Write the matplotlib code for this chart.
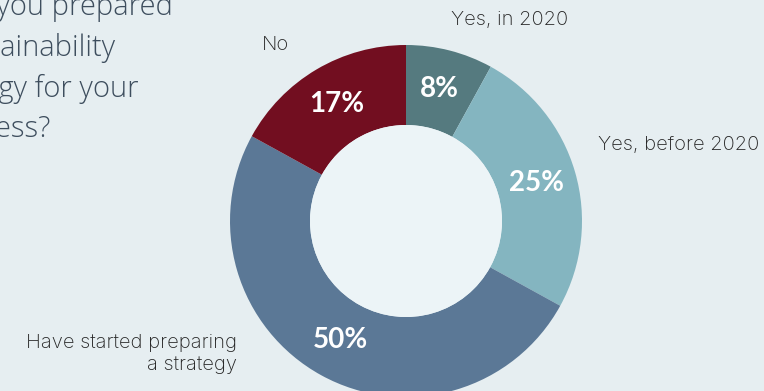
import matplotlib
matplotlib.use("Agg")
import matplotlib.pyplot as plt
from matplotlib.patches import Circle
import numpy as np

# Survey answers (share of respondents, %)
categories = ["Yes, in 2020", "Yes, before 2020", "Have started preparing\na strategy", "No"]
values = [8, 25, 50, 17]
colors = ["#557a7f", "#84b5c0", "#5b7896", "#720e20"]
question_lines = ["Have you prepared", "a sustainability", "strategy for your", "business?"]

W, H = 764, 391
fig = plt.figure(figsize=(W / 100, H / 100), dpi=100)
fig.patch.set_facecolor("#e6eef1")
ax = fig.add_axes([0, 0, 1, 1])
ax.set_facecolor("#e6eef1")
ax.set_xlim(0, W)
ax.set_ylim(0, H)

cx, cy = 406, H - 221
r_out, ring = 176, 80

wedges, _ = ax.pie(values, colors=colors, startangle=90, counterclock=False,
                   center=(cx, cy), radius=r_out,
                   wedgeprops=dict(width=ring, edgecolor="none", linewidth=0))
ax.add_patch(Circle((cx, cy), r_out - ring, facecolor="#ecf4f7", edgecolor="none", zorder=3))

# percentage labels in the middle of the ring
r_mid = r_out - ring / 2
for w, v in zip(wedges, values):
    ang = np.deg2rad((w.theta1 + w.theta2) / 2)
    ax.text(cx + r_mid * np.cos(ang), cy + r_mid * np.sin(ang), f"{v}%",
            ha="center", va="center", color="white", fontsize=20,
            fontweight="bold", family="Lato", zorder=4)

# category labels outside the ring
lab_kw = dict(color="#252525", fontsize=14.5, family="Inter", fontweight="light")
ax.text(568, H - 20, categories[0], ha="right", va="center", **lab_kw)
ax.text(598, H - 145, categories[1], ha="left", va="center", **lab_kw)
ax.text(237, H - 354, categories[2], ha="right", va="center",
        linespacing=1.3, multialignment="right", **lab_kw)
ax.text(276, H - 45, categories[3], ha="center", va="center", **lab_kw)

# question heading on the left, running off the left edge
head_kw = dict(color="#3e4e5e", fontsize=21, family="Open Sans", fontweight="light")
fig.canvas.draw()
renderer = fig.canvas.get_renderer()
probe = ax.text(0, 0, "a sust", **head_kw)
shift = probe.get_window_extent(renderer).width
probe.remove()
for line, base in zip(question_lines, [15, 56, 97, 137]):
    ax.text(-shift, H - base, line, ha="left", va="baseline", **head_kw)

ax.set_xlim(0, W)
ax.set_ylim(0, H)
ax.set_aspect("auto")
ax.axis("off")

fig.savefig("out.png", dpi=100, facecolor=fig.get_facecolor())
